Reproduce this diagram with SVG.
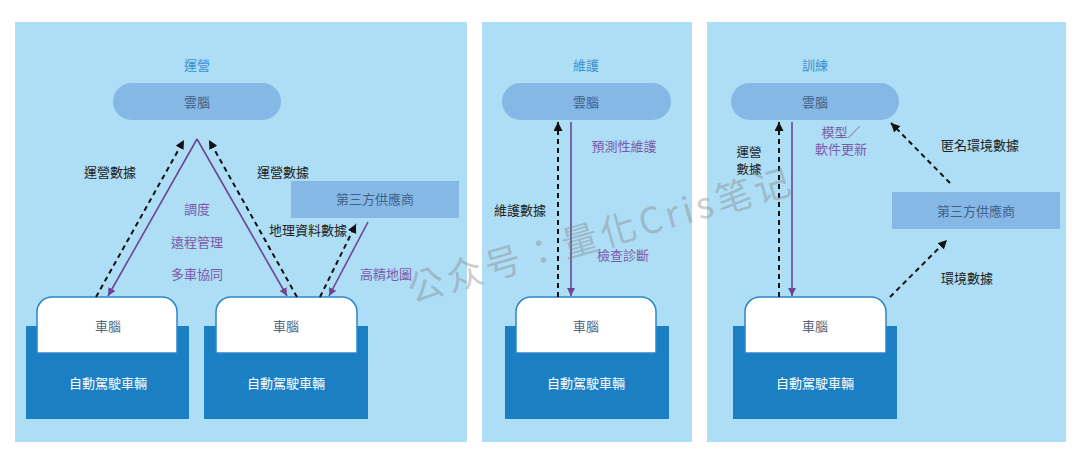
<svg xmlns="http://www.w3.org/2000/svg" width="1080" height="456" viewBox="0 0 1080 456">
<defs>
<marker id="ab" viewBox="0 0 10 10" refX="10" refY="5" markerWidth="4.5" markerHeight="4.5" orient="auto" markerUnits="strokeWidth"><path d="M0,0 L10,5 L0,10 z" fill="#111"/></marker>
<marker id="ap" viewBox="0 0 10 10" refX="10" refY="5" markerWidth="5" markerHeight="5" orient="auto" markerUnits="strokeWidth"><path d="M0,0 L10,5 L0,10 z" fill="#6e4592"/></marker>
<style>
text{font-family:"Noto Sans CJK TC","Noto Sans CJK SC",sans-serif;font-size:13px;text-anchor:middle;dominant-baseline:central}
.panel{fill:#addef5}
.cloud{fill:#86b8e6}
.third{fill:#86b8e6}
.title{fill:#3a8fd2}
.ct{fill:#3f6188}
.dk{fill:#1b7fc3}
.wh{fill:#fff;stroke:#2a86cc;stroke-width:1.5}
.wt{fill:#fff}
.vt{fill:#56697c}
.lb{fill:#222}
.pl{fill:#7d5aa8}
.dash{stroke:#111;stroke-width:2;stroke-dasharray:5 4;fill:none;marker-end:url(#ab)}
.pur{stroke:#6e4592;stroke-width:1.6;fill:none;marker-end:url(#ap)}
</style>
</defs>
<rect width="1080" height="456" fill="#fff"/>
<rect class="panel" x="15" y="22" width="452" height="420"/>
<rect class="panel" x="482" y="22" width="210" height="420"/>
<rect class="panel" x="707" y="22" width="359" height="420"/>
<text class="title" x="197" y="64">運營</text>
<text class="title" x="586" y="64">維護</text>
<text class="title" x="815" y="64">訓練</text>

<g id="cloud1"><rect class="cloud" x="113" y="83" width="168" height="37" rx="18.5"/><text class="ct" x="197" y="101">雲腦</text></g>
<g id="cloud2"><rect class="cloud" x="502" y="83" width="169" height="37" rx="18.5"/><text class="ct" x="586" y="101">雲腦</text></g>
<g id="cloud3"><rect class="cloud" x="731" y="83" width="168" height="37" rx="18.5"/><text class="ct" x="815" y="101">雲腦</text></g>

<g id="third1"><rect class="third" x="291" y="181" width="168" height="37"/><text class="ct" x="375" y="198">第三方供應商</text></g>
<g id="third2"><rect class="third" x="892" y="192" width="168" height="37"/><text class="ct" x="976" y="210">第三方供應商</text></g>

<g id="car1"><rect class="dk" x="26" y="326" width="163" height="93"/><path class="wh" d="M37,353 V312 A15,15 0 0 1 52,297 H162 A15,15 0 0 1 177,312 V353 Z"/><text class="vt" x="108" y="325">車腦</text><text class="wt" x="108" y="382">自動駕駛車輛</text></g>
<g id="car2"><rect class="dk" x="204" y="326" width="164" height="93"/><path class="wh" d="M216,353 V312 A15,15 0 0 1 231,297 H342 A15,15 0 0 1 357,312 V353 Z"/><text class="vt" x="286" y="325">車腦</text><text class="wt" x="286" y="382">自動駕駛車輛</text></g>
<g id="car3"><rect class="dk" x="505" y="326" width="164" height="93"/><path class="wh" d="M516,353 V312 A15,15 0 0 1 531,297 H641 A15,15 0 0 1 656,312 V353 Z"/><text class="vt" x="586" y="325">車腦</text><text class="wt" x="586" y="382">自動駕駛車輛</text></g>
<g id="car4"><rect class="dk" x="733" y="326" width="164" height="93"/><path class="wh" d="M745,353 V312 A15,15 0 0 1 760,297 H871 A15,15 0 0 1 886,312 V353 Z"/><text class="vt" x="815" y="325">車腦</text><text class="wt" x="815" y="382">自動駕駛車輛</text></g>

<g id="connectors">
<line class="dash" x1="96" y1="297" x2="184" y2="140"/>
<line class="pur" x1="197" y1="139" x2="108" y2="296"/>
<line class="pur" x1="197" y1="139" x2="287" y2="296"/>
<line class="dash" x1="297" y1="297" x2="209" y2="140"/>
<line class="dash" x1="320" y1="297" x2="356" y2="224"/>
<line class="pur" x1="368" y1="222" x2="329" y2="296"/>
<line class="dash" x1="558" y1="297" x2="558" y2="122"/>
<line class="pur" x1="571" y1="122" x2="571" y2="296"/>
<line class="dash" x1="779" y1="297" x2="779" y2="122"/>
<line class="pur" x1="792" y1="122" x2="792" y2="296"/>
<line class="dash" x1="950" y1="183" x2="891" y2="123"/>
<line class="dash" x1="890" y1="297" x2="947" y2="240"/>
</g>

<g id="labels">
<text class="lb" x="110" y="171">運營數據</text>
<text class="lb" x="283" y="171">運營數據</text>
<text class="pl" x="197" y="208">調度</text>
<text class="pl" x="197" y="241">遠程管理</text>
<text class="pl" x="197" y="273">多車協同</text>
<text class="lb" x="308" y="229">地理資料數據</text>
<text class="pl" x="386" y="273">高精地圖</text>
<text class="pl" x="624" y="145">預測性維護</text>
<text class="lb" x="520" y="209">維護數據</text>
<text class="pl" x="623" y="254">檢查診斷</text>
<text class="lb" x="749" y="151" style="font-size:12.5px">運營</text>
<text class="lb" x="749" y="168" style="font-size:12.5px">數據</text>
<text class="pl" x="841" y="131">模型／</text>
<text class="pl" x="841" y="148">軟件更新</text>
<text class="lb" x="980" y="144">匿名環境數據</text>
<text class="lb" x="967" y="277">環境數據</text>
</g>

<text x="600" y="232" transform="rotate(-16 600 232)" style="font-size:36px;fill:#808080;fill-opacity:0.4;letter-spacing:4px" textLength="400" lengthAdjust="spacing">公众号：量化Cris笔记</text>
</svg>
